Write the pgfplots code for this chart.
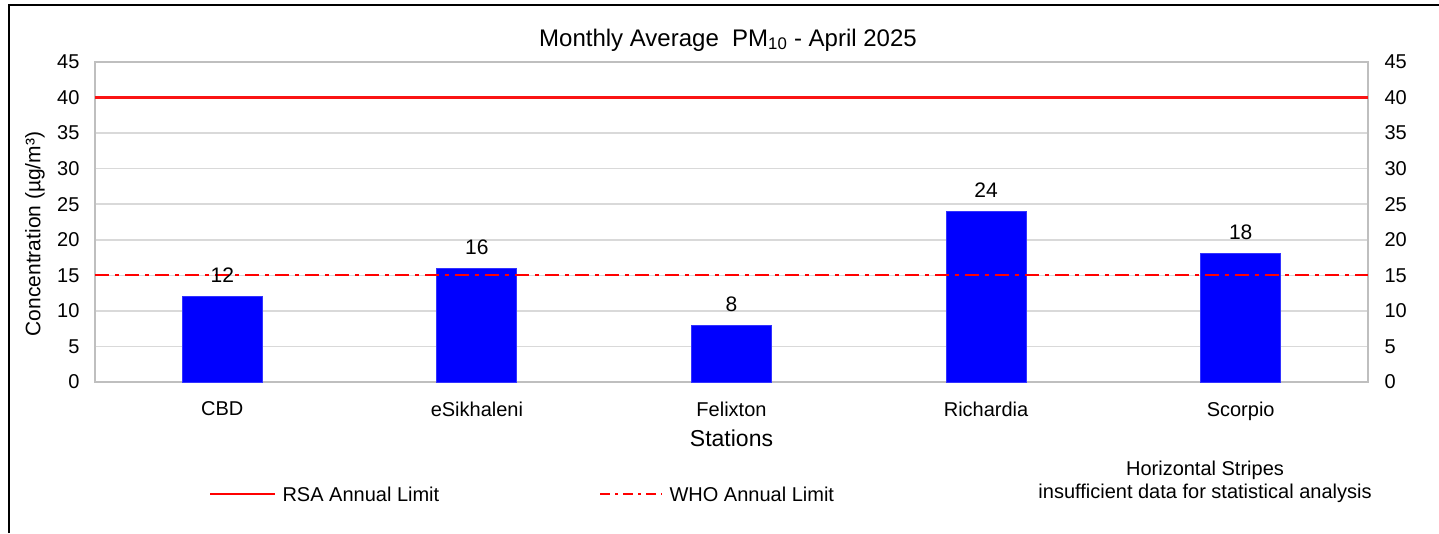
\documentclass[border=0pt]{standalone}
\usepackage{pgfplots}
\pgfplotsset{compat=1.18}
\usepackage{fontspec}
\setmainfont{Liberation Sans}
\definecolor{gridgray}{RGB}{217,217,217}
\definecolor{boxgray}{RGB}{191,191,191}
\definecolor{barblue}{RGB}{0,0,255}
\definecolor{limred}{RGB}{255,0,0}
\definecolor{limred2}{RGB}{250,20,20}
\begin{document}
\begin{tikzpicture}[x=1pt,y=1pt]
\useasboundingbox (0,0) rectangle (1439,533);
\fill[white] (0,0) rectangle (1439,533);
\draw[black,line width=2pt] (9,0) -- (9,528) -- (1439,528);
\begin{axis}[
  at={(95pt,151pt)}, anchor=south west,
  scale only axis, width=1273pt, height=320pt,
  xmin=-0.5, xmax=4.5, ymin=0, ymax=45,
  ytick={0,5,...,45}, ytick style={draw=none},
  axis y line*=right, axis x line=none,
  axis line style={boxgray,line width=1.5pt},
  /pgf/number format/assume math mode=true,
  tick label style={font=\fontsize{20}{24}\selectfont},
  yticklabel style={xshift=13pt},
]
\addplot[draw=none] coordinates {(0,0)};
\end{axis}
\begin{axis}[
  at={(95pt,151pt)}, anchor=south west,
  scale only axis, width=1273pt, height=320pt,
  xmin=-0.5, xmax=4.5, ymin=0, ymax=45,
  ytick={0,5,...,45},
  xtick={0,1,2,3,4},
  xticklabels={CBD,eSikhaleni,Felixton,Richardia,Scorpio},
  xtick style={draw=none}, ytick style={draw=none},
  ymajorgrids, grid style={gridgray,line width=1.5pt},
  axis line style={boxgray,line width=1.5pt},
  /pgf/number format/assume math mode=true,
  tick label style={font=\fontsize{20}{24}\selectfont},
  yticklabel style={xshift=-12pt},
  xticklabel style={yshift=-16pt},
  clip=false,
]
\addplot[ybar, bar width=80pt, fill=barblue, draw=barblue!80!white, line width=1pt,
  nodes near coords, every node near coord/.append style={font=\fontsize{21}{25}\selectfont, text=black, yshift=10pt}]
  coordinates {(0,12) (1,16) (2,8) (3,24) (4,18)};
\addplot[color=limred, line width=1.8pt, dash pattern=on 14pt off 6pt on 4pt off 6pt] coordinates {(-0.5,15) (4.5,15)};
\addplot[color=limred2, line width=2.2pt] coordinates {(-0.5,40) (4.5,40)};
\end{axis}
\node[font=\fontsize{24}{28}\selectfont] at (728,493) {Monthly Average\ \ PM\textsubscript{10} - April 2025};
\node[font=\fontsize{23}{27}\selectfont] at (731.5,95) {Stations};
\node[font=\fontsize{21}{25}\selectfont, rotate=90] at (35,299) {Concentration (µg/m³)};
\draw[limred, line width=1.8pt] (210,39) -- (275,39);
\node[anchor=west, font=\fontsize{20}{24}\selectfont] at (279,39) {RSA Annual Limit};
\draw[limred, line width=1.8pt, dash pattern=on 10pt off 5pt on 3pt off 5pt] (600,39) -- (662,39);
\node[anchor=west, font=\fontsize{20}{24}\selectfont] at (666,39) {WHO Annual Limit};
\node[font=\fontsize{20}{24}\selectfont] at (1205,63) {Horizontal Stripes};
\node[font=\fontsize{20}{24}\selectfont] at (1205,40) {insufficient data for statistical analysis};
\end{tikzpicture}
\end{document}
